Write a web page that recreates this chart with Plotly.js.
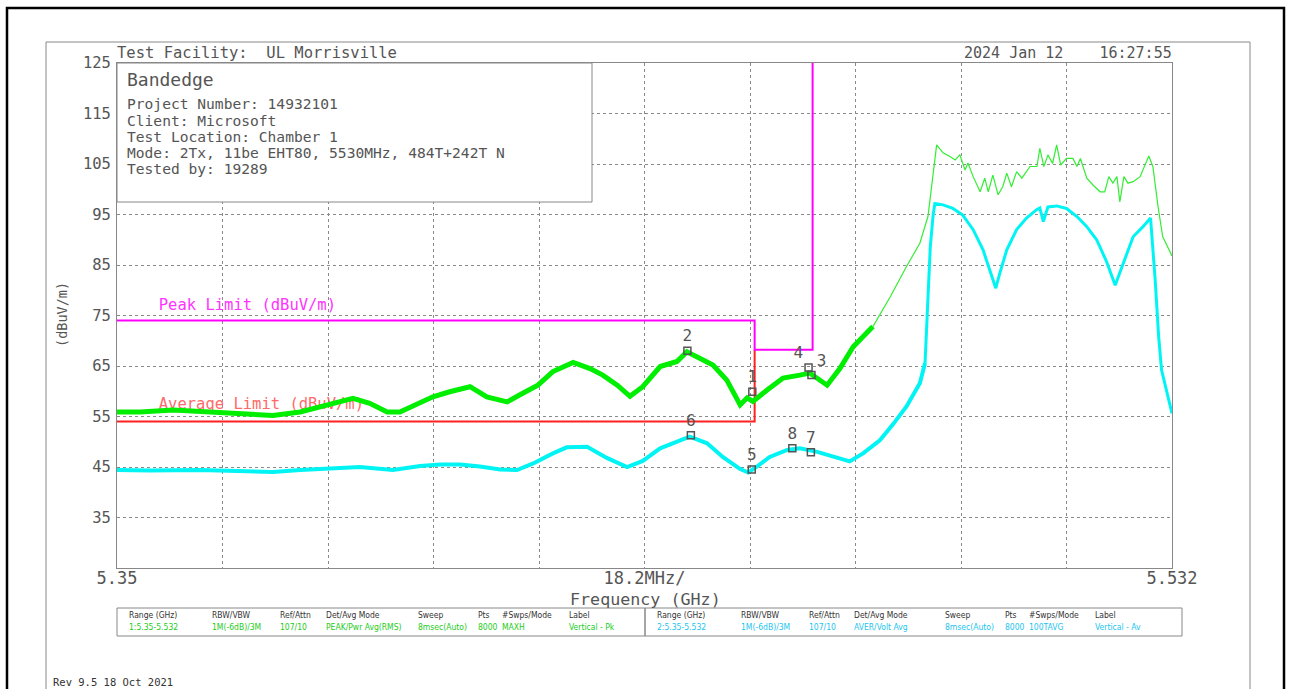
<!DOCTYPE html>
<html>
<head>
<meta charset="utf-8">
<script src="https://cdn.plot.ly/plotly-3.0.1.min.js"></script>
<style>
  html, body { margin: 0; padding: 0; background: #ffffff; }
  #chart { width: 1290px; height: 689px; }
</style>
</head>
<body>
<div id="chart"></div>
<script>
// ---------------- DATA ----------------
// Trace 1: Peak (MAXH), noisy lower part
const peakFreqA = [5.3500, 5.3540, 5.3597, 5.3655, 5.3712, 5.3769, 5.3816, 5.3862, 5.3907, 5.3936,
  5.3966, 5.3988, 5.4018, 5.4045, 5.4074, 5.4109, 5.4138, 5.4173, 5.4200, 5.4226, 5.4252, 5.4287,
  5.4316, 5.4338, 5.4363, 5.4385, 5.4407, 5.4437, 5.4466, 5.4483, 5.4506, 5.4528, 5.4552, 5.4575,
  5.4587, 5.4597, 5.4621, 5.4649, 5.4678, 5.4695, 5.4725, 5.4747, 5.4770, 5.4804];
const peakValA = [55.9, 55.9, 56.3, 55.9, 55.6, 55.2, 55.9, 57.3, 58.6, 57.6,
  55.9, 55.9, 57.6, 58.9, 59.9, 60.9, 58.9, 57.9, 59.6, 61.2, 63.9, 65.7,
  64.5, 63.2, 61.2, 59.0, 60.9, 64.9, 65.9, 67.8, 66.5, 65.2, 62.2, 57.3,
  58.7, 58.0, 60.2, 62.6, 63.2, 63.6, 61.2, 64.5, 68.8, 72.8];
// Trace 1: Peak (MAXH), upper part (thin trace)
const peakFreqB = [5.4804, 5.4834, 5.4862, 5.4885, 5.4899, 5.4908, 5.4914, 5.4925, 5.4937, 5.4946,
  5.4954, 5.4963, 5.4968, 5.4977, 5.4989, 5.4997, 5.5003, 5.5011, 5.5020, 5.5028, 5.5035, 5.5043,
  5.5052, 5.5061, 5.5075, 5.5087, 5.5092, 5.5099, 5.5106, 5.5114, 5.5121, 5.5128, 5.5138, 5.5149,
  5.5156, 5.5162, 5.5173, 5.5184, 5.5196, 5.5204, 5.5211, 5.5218, 5.5225, 5.5230, 5.5237, 5.5244,
  5.5253, 5.5265, 5.5273, 5.5280, 5.5287, 5.5296, 5.5304, 5.5320];
const peakValB = [72.8, 78.7, 84.7, 89.3, 94.6, 103.8, 108.8, 107.2, 106.5, 105.8,
  106.8, 103.8, 105.2, 102.5, 99.5, 102.2, 99.5, 102.8, 98.9, 100.5, 103.2, 100.5,
  103.5, 102.2, 104.5, 104.5, 108.1, 104.5, 106.8, 105.1, 108.8, 104.8, 106.1, 106.1,
  104.5, 106.1, 102.2, 100.8, 99.5, 99.5, 102.5, 101.2, 102.5, 97.5, 102.5, 101.2,
  101.5, 102.5, 104.5, 106.6, 104.5, 96.5, 90.6, 86.8];

// Trace 2: Average (100TAVG), noisy lower part
const avgFreqA = [5.3500, 5.3557, 5.3643, 5.3712, 5.3769, 5.3816, 5.3862, 5.3919, 5.3976, 5.4023,
  5.4057, 5.4092, 5.4126, 5.4161, 5.4190, 5.4218, 5.4252, 5.4276, 5.4311, 5.4345, 5.4380, 5.4407,
  5.4437, 5.4466, 5.4488, 5.4518, 5.4545, 5.4575, 5.4589, 5.4604, 5.4626, 5.4656, 5.4678, 5.4708,
  5.4735, 5.4764, 5.4787, 5.4816, 5.4839, 5.4862, 5.4885, 5.4894];
const avgValA = [44.4, 44.3, 44.4, 44.2, 44.0, 44.4, 44.6, 45.0, 44.4, 45.2,
  45.5, 45.5, 45.1, 44.5, 44.4, 45.7, 47.7, 48.9, 49.0, 46.8, 45.0, 46.2,
  48.7, 50.0, 51.0, 49.7, 47.0, 44.6, 43.9, 45.1, 47.0, 48.4, 48.7, 48.0,
  47.0, 46.1, 47.7, 50.3, 53.5, 57.0, 61.6, 65.6];
// Trace 2: Average, in-band part
const avgFreqB = [5.4894, 5.4898, 5.4903, 5.4908, 5.4911, 5.4925, 5.4942, 5.4959, 5.4977, 5.4994,
  5.5009, 5.5016, 5.5023, 5.5035, 5.5052, 5.5069, 5.5087, 5.5092, 5.5098, 5.5106, 5.5121, 5.5138,
  5.5156, 5.5173, 5.5190, 5.5207, 5.5222, 5.5236, 5.5253, 5.5270, 5.5283, 5.5291, 5.5297, 5.5302,
  5.5311, 5.5320];
const avgValB = [65.6, 74.8, 88.6, 95.0, 97.2, 96.9, 96.2, 94.9, 92.0, 88.0,
  82.7, 80.4, 83.4, 88.0, 92.0, 94.3, 96.0, 96.3, 93.6, 96.5, 96.7, 96.2,
  94.6, 92.6, 90.0, 85.7, 81.0, 85.3, 90.6, 92.6, 94.3, 82.0, 70.8, 64.2,
  60.2, 55.6];

// Limit lines
const peakLimitFreq = [5.35, 5.46, 5.46, 5.47, 5.47];
const peakLimitVal  = [74, 74, 68.2, 68.2, 125];
const avgLimitFreq  = [5.35, 5.46, 5.46];
const avgLimitVal   = [54, 54, 68.2];

// Markers
const markerLabels = ['1', '2', '3', '4', '5', '6', '7', '8'];
const markerFreq   = [5.4596, 5.4484, 5.4698, 5.4693, 5.4595, 5.4490, 5.4697, 5.4665];
const markerVal    = [59.9, 68.0, 63.2, 64.7, 44.5, 51.3, 47.9, 48.7];

// Axis ticks
const xTickVals = [5.35, 5.3682, 5.3864, 5.4046, 5.4228, 5.441, 5.4592, 5.4774, 5.4956, 5.5138, 5.532];
const xTickText = ['5.35', '', '', '', '', '18.2MHz/', '', '', '', '', '5.532'];
const yTickVals = [35, 45, 55, 65, 75, 85, 95, 105, 115, 125];
const yTickText = ['35', '45', '55', '65', '75', '85', '95', '105', '115', '125'];

// Header texts
const facilityText = 'Test Facility:  UL Morrisville';
const dateText = '2024 Jan 12    16:27:55';
const infoTitle = 'Bandedge';
const infoLines = ['Project Number: 14932101', 'Client: Microsoft', 'Test Location: Chamber 1',
  'Mode: 2Tx, 11be EHT80, 5530MHz, 484T+242T N', 'Tested by: 19289'];
const revText = 'Rev 9.5 18 Oct 2021';

// Bottom settings table
const tableHeaders = ['Range (GHz)', 'RBW/VBW', 'Ref/Attn', 'Det/Avg Mode', 'Sweep', 'Pts', '#Swps/Mode', 'Label'];
const tableRow1 = ['1:5.35-5.532', '1M(-6dB)/3M', '107/10', 'PEAK/Pwr Avg(RMS)', '8msec(Auto)', '8000', 'MAXH', 'Vertical - Pk'];
const tableRow2 = ['2:5.35-5.532', '1M(-6dB)/3M', '107/10', 'AVER/Volt Avg', '8msec(Auto)', '8000', '100TAVG', 'Vertical - Av'];

// ---------------- STYLE / LAYOUT ----------------
const MONO = 'DejaVu Sans Mono, monospace';
const NARROW = 'DejaVu Sans Condensed, Liberation Sans Narrow, DejaVu Sans, sans-serif';
const GREY = '#555555';
const L = 117, R = 1172, T = 63, B = 568;
function px(x) { return (x - L) / (R - L); }
function py(y) { return (B - y) / (B - T); }

const traces = [
  { x: [5.3572], y: [76.8], mode: 'text', text: ['Peak Limit (dBuV/m)'], textposition: 'middle right',
    textfont: { family: MONO, size: 15.5, color: '#ff33ff' }, hoverinfo: 'skip' },
  { x: [5.3572], y: [57.2], mode: 'text', text: ['Average Limit (dBuV/m)'], textposition: 'middle right',
    textfont: { family: MONO, size: 15.5, color: '#ff6a6a' }, hoverinfo: 'skip' },
  { x: avgLimitFreq, y: avgLimitVal, mode: 'lines', line: { color: '#ff2020', width: 2 } },
  { x: peakLimitFreq, y: peakLimitVal, mode: 'lines', line: { color: '#ff00ff', width: 2 } },
  { x: avgFreqA, y: avgValA, mode: 'lines', line: { color: '#00f4f4', width: 4 } },
  { x: avgFreqB, y: avgValB, mode: 'lines', line: { color: '#00f4f4', width: 3 } },
  { x: peakFreqA, y: peakValA, mode: 'lines', line: { color: '#00ee00', width: 5 } },
  { x: peakFreqB, y: peakValB, mode: 'lines', line: { color: '#33ee33', width: 1.2 } },
  { x: markerFreq, y: markerVal, mode: 'markers+text', text: markerLabels,
    textposition: ['top center', 'top center', 'top right', 'top left', 'top center', 'top center', 'top center', 'top center'],
    textfont: { family: MONO, size: 16, color: GREY },
    marker: { symbol: 'square-open', size: 7, color: '#555', line: { width: 1.5 } } }
];

const annotations = [];
function ann(text, x, y, opts) {
  annotations.push(Object.assign({ text: text, x: px(x), y: py(y), xref: 'paper', yref: 'paper',
    showarrow: false, xanchor: 'left', yanchor: 'middle',
    font: { family: MONO, size: 14, color: GREY } }, opts || {}));
}
ann(facilityText, 115, 53, { font: { family: MONO, size: 15.5, color: GREY } });
ann(dateText, 1174, 53, { xanchor: 'right', font: { family: MONO, size: 15, color: GREY } });
ann(infoTitle, 125, 79, { font: { family: MONO, size: 18, color: GREY } });
const infoY = [104, 120, 136, 152, 168];
infoLines.forEach((t, i) => ann(t, 125, infoY[i], { font: { family: MONO, size: 14.6, color: GREY } }));
ann(revText, 51, 682, { font: { family: MONO, size: 10.5, color: '#333' } });

const col1X = [127, 210, 278, 324, 416, 476, 500, 567];
const col2X = [655, 739, 807, 852, 943, 1003, 1027, 1093];
tableHeaders.forEach((h, i) => {
  ann(h, col1X[i], 615, { font: { family: NARROW, size: 8.5, color: '#333' } });
  ann(h, col2X[i], 615, { font: { family: NARROW, size: 8.5, color: '#333' } });
  ann(tableRow1[i], col1X[i], 627, { font: { family: NARROW, size: 8.5, color: '#22cc22' } });
  ann(tableRow2[i], col2X[i], 627, { font: { family: NARROW, size: 8.5, color: '#22c4ee' } });
});
ann('(dBuV/m)', 62, 315, { xanchor: 'center', textangle: -90, font: { family: MONO, size: 13.5, color: GREY } });
ann('Frequency (GHz)', 645, 599, { xanchor: 'center', font: { family: MONO, size: 16.7, color: GREY } });

const shapes = [
  { type: 'rect', xref: 'paper', yref: 'paper', x0: px(7), x1: px(1284), y0: py(700), y1: py(8),
    line: { color: '#000', width: 2.5 }, layer: 'below' },
  { type: 'rect', xref: 'paper', yref: 'paper', x0: px(46), x1: px(1250), y0: py(700), y1: py(42),
    line: { color: '#888', width: 1 }, layer: 'below' },
  { type: 'rect', xref: 'paper', yref: 'paper', x0: px(117), x1: px(592), y0: py(202), y1: py(63),
    line: { color: '#888', width: 1 }, fillcolor: '#ffffff', layer: 'above' },
  { type: 'rect', xref: 'paper', yref: 'paper', x0: px(117), x1: px(645), y0: py(636), y1: py(608),
    line: { color: '#888', width: 1 } },
  { type: 'rect', xref: 'paper', yref: 'paper', x0: px(645), x1: px(1182), y0: py(636), y1: py(608),
    line: { color: '#888', width: 1 } }
];

const layout = {
  width: 1290, height: 689,
  margin: { l: L, r: 1290 - R, t: T, b: 689 - B, pad: 0 },
  paper_bgcolor: '#ffffff', plot_bgcolor: '#ffffff',
  showlegend: false,
  xaxis: {
    range: [5.35, 5.532], tickvals: xTickVals, ticktext: xTickText,
    showgrid: true, griddash: 'dot', gridcolor: '#8a8a8a', gridwidth: 1,
    showline: true, mirror: true, linecolor: '#888', linewidth: 1,
    zeroline: false, ticks: '', ticklabelstandoff: -5,
    tickfont: { family: MONO, size: 17, color: GREY }, fixedrange: true
  },
  yaxis: {
    range: [25, 125], tickvals: yTickVals, ticktext: yTickText,
    showgrid: true, griddash: 'dot', gridcolor: '#8a8a8a', gridwidth: 1,
    showline: true, mirror: true, linecolor: '#888', linewidth: 1,
    zeroline: false, ticks: '', ticklabelstandoff: 2,
    tickfont: { family: MONO, size: 15.5, color: GREY }, fixedrange: true
  },
  shapes: shapes,
  annotations: annotations
};

Plotly.newPlot('chart', traces, layout, { staticPlot: true, displayModeBar: false });
</script>
</body>
</html>
